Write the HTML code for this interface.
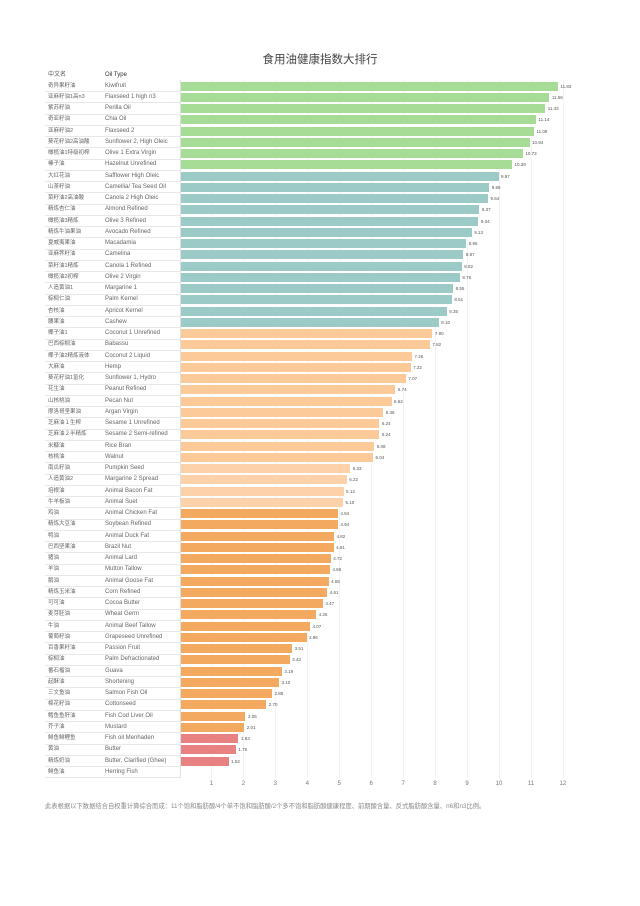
<!DOCTYPE html>
<html><head><meta charset="utf-8"><style>
body{margin:0;width:640px;height:906px;background:#fff;position:relative;overflow:hidden;font-family:"Liberation Sans","Noto Sans CJK SC",sans-serif;color:#555}
.a{position:absolute;white-space:nowrap}
.t{font-size:6px;color:#666;line-height:11px}
.bar{position:absolute;height:9px}
.v{font-size:4.5px;color:#555;position:absolute;line-height:9px}
.g{position:absolute;top:80px;width:1px;height:698px;background:#f2f2f2}
.sep{position:absolute;left:45px;width:135px;height:1px;background:#e8e8e8}
</style></head><body>
<div class="a" style="left:0;width:640px;top:51px;text-align:center;font-size:11.5px;color:#444">食用油健康指数大排行</div>
<div class="a t" style="left:48px;top:70px;color:#555">中文名</div>
<div class="a t" style="left:105px;top:70px;color:#333">Oil Type</div>
<div id="c"></div>
<div class="a" style="left:45px;top:801px;font-size:6.3px;color:#888">此表根据以下数据结合自权重计算综合而成：11个饱和脂肪酸/4个单不饱和脂肪酸/2个多不饱和脂肪酸健康程度、前期酸含量、反式脂肪酸含量、n6和n3比例。</div>
<script>
var d=[["奇异果籽油","Kiwifruit",11.83],["亚麻籽油1高n3","Flaxseed 1 high n3",11.56],["紫苏籽油","Perilla Oil",11.43],["奇亚籽油","Chia Oil",11.14],["亚麻籽油2","Flaxseed 2",11.08],["葵花籽油2高油酸","Sunflower 2, High Oleic",10.94],["橄榄油1特级初榨","Olive  1 Extra Virgin",10.73],["榛子油","Hazelnut Unrefined",10.39],["大红花油","Safflower High Oleic",9.97],["山茶籽油","Camellia/ Tea Seed Oil",9.68],["菜籽油2高油酸","Canola 2 High Oleic",9.64],["精炼杏仁油","Almond Refined",9.37],["橄榄油3精炼","Olive  3 Refined",9.34],["精炼牛油果油","Avocado Refined",9.13],["夏威夷果油","Macadamia",8.96],["亚麻荠籽油","Camelina",8.87],["菜籽油1精炼","Canola 1 Refined",8.82],["橄榄油2初榨","Olive  2 Virgin",8.76],["人造黄油1","Margarine 1",8.55],["棕榈仁油","Palm Kernel",8.51],["杏核油","Apricot Kernel",8.35],["腰果油","Cashew",8.10],["椰子油1","Coconut 1 Unrefined",7.90],["巴西棕榈油","Babassu",7.82],["椰子油2精炼液体","Coconut 2 Liquid",7.26],["大麻油","Hemp",7.22],["葵花籽油1氢化","Sunflower 1, Hydro",7.07],["花生油","Peanut Refined",6.74],["山核桃油","Pecan Nut",6.62],["摩洛哥坚果油","Argan Virgin",6.36],["芝麻油１生榨","Sesame 1 Unrefined",6.24],["芝麻油２半精炼","Sesame 2 Semi-refined",6.24],["米糠油","Rice Bran",6.08],["核桃油","Walnut",6.04],["南瓜籽油","Pumpkin Seed",5.33],["人造黄油2","Margarine 2 Spread",5.22],["培根油","Animal Bacon Fat",5.12],["牛羊板油","Animal Suet",5.10],["鸡油","Animal Chicken Fat",4.94],["精炼大豆油","Soybean Refined",4.94],["鸭油","Animal Duck Fat",4.82],["巴西坚果油","Brazil Nut",4.81],["猪油","Animal Lard",4.72],["羊油","Mutton Tallow",4.69],["鹅油","Animal Goose Fat",4.65],["精炼玉米油","Corn Refined",4.61],["可可油","Cocoa Butter",4.47],["麦芽胚油","Wheat Germ",4.26],["牛油","Animal Beef Tallow",4.07],["葡萄籽油","Grapeseed Unrefined",3.96],["百香果籽油","Passion Fruit",3.51],["棕榈油","Palm Defractionated",3.43],["番石榴油","Guava",3.19],["起酥油","Shortening",3.10],["三文鱼油","Salmon Fish Oil",2.88],["棉花籽油","Cottonseed",2.70],["鳕鱼鱼肝油","Fish Cod Liver Oil",2.05],["芥子油","Mustard",2.01],["鲱鱼鲱鲤鱼","Fish oil Menhaden",1.83],["黄油","Butter",1.75],["精炼奶油","Butter, Clarified (Ghee)",1.52],["鲱鱼油","Herring Fish",0]];
var h="",x0=179.5,u=31.95;
for(var k=1;k<=12;k++){var gx=x0+k*u;h+='<div class="g" style="left:'+gx+'px"></div><div class="a" style="left:'+(gx-10)+'px;width:20px;text-align:center;top:781px;font-size:6px;color:#777">'+k+'</div>';}
h+='<div class="a" style="left:180px;top:80px;width:1px;height:698px;background:#e0e0e0"></div>';
for(var i=0;i<d.length;i++){var y=80.5+i*11.25,v=d[i][2];
var c=i<8?"#a7dc97":i<22?"#9ccbc7":i<34?"#fcc999":i<38?"#fdd2aa":i<58?"#f3a95f":"#e88282";
h+='<div class="sep" style="top:'+(y+10.6)+'px"></div>';
h+='<div class="a t" style="left:48px;top:'+y+'px;font-size:5.5px">'+d[i][0]+'</div><div class="a t" style="left:105px;top:'+y+'px">'+d[i][1]+'</div>';
if(v>0){var w=v*u;h+='<div class="bar" style="left:181px;top:'+(y+1)+'px;width:'+(w-1)+'px;background:'+c+'"></div><div class="v" style="left:'+(x0+w+3)+'px;top:'+(y+1)+'px">'+v.toFixed(2)+'</div>';}
}
document.getElementById("c").innerHTML=h;
</script>
</body></html>
